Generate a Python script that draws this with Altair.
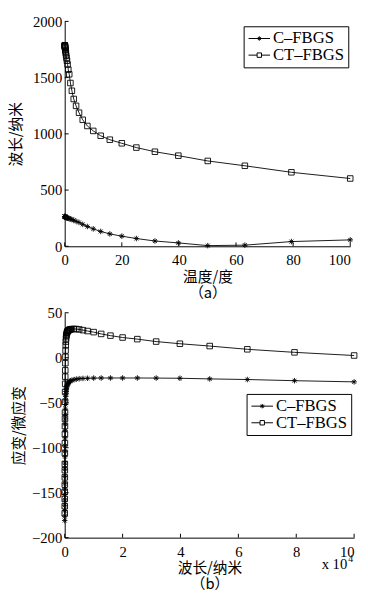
import altair as alt
import pandas as pd

series = ["C–FBGS", "CT–FBGS"]

# Panel (a): temperature (deg) vs wavelength (nm)
temp = [0.01, 0.02, 0.03, 0.05, 0.07, 0.1, 0.13, 0.16, 0.2, 0.25, 0.32, 0.4, 0.5, 0.63, 0.79,
        1, 1.26, 1.58, 2, 2.51, 3.16, 3.98, 5.01, 6.31, 7.94, 10, 12.6, 15.8, 20, 25.1, 31.6,
        39.8, 50.1, 63.1, 79.4, 100]
c_a = [265, 265, 264, 264, 263, 263, 262, 262, 261, 260, 259, 258, 257, 255, 253,
       251, 249, 246, 243, 238, 232, 222, 212, 195, 176, 155, 132, 110, 90, 69, 47,
       30, 6, 10, 42, 57]
ct_a = [1788, 1786, 1784, 1781, 1778, 1774, 1769, 1763, 1755, 1745, 1732, 1716, 1697, 1675, 1650,
        1617, 1571, 1530, 1452, 1383, 1310, 1249, 1188, 1125, 1070, 1026, 983, 948, 916, 878, 841,
        806, 759, 716, 658, 603]

# Panel (b): wavelength (x10^4 nm) vs strain (micro-strain)
wl = [0.0005, 0.001, 0.0015, 0.002, 0.0025, 0.003, 0.0035, 0.004, 0.005, 0.006, 0.007, 0.008,
      0.009, 0.010, 0.012, 0.014, 0.016, 0.018, 0.020, 0.023, 0.026, 0.030, 0.035, 0.040, 0.046,
      0.053, 0.060, 0.070, 0.080, 0.090, 0.10, 0.115, 0.13, 0.15, 0.175, 0.20, 0.25, 0.32, 0.40,
      0.50, 0.63, 0.79, 1.0, 1.26, 1.58, 2.0, 2.51, 3.16, 3.98, 5.01, 6.31, 7.94, 10.0]
c_b = [-181, -176, -170, -164, -158, -152, -146, -140, -132, -124, -117, -110, -104, -98,
       -89, -81, -74, -68, -63, -57, -52, -47, -43, -40, -37.5, -35.5, -34, -32.5, -31, -30,
       -29, -28.5, -27.8, -27, -26.3, -25.7, -25, -24.3, -23.8, -23.3, -23, -22.8, -22.6,
       -22.5, -22.5, -22.5, -22.5, -22.6, -22.8, -23.5, -24.2, -25.5, -26.8]
ct_b = [-173, -165, -157, -149, -141, -133, -125, -118, -106, -95, -85, -76, -68, -61,
        -49, -38, -29, -21, -14, -6, 1, 8, 14, 18, 21.5, 24, 25.5, 27, 28, 28.8,
        29.4, 30, 30.5, 31, 31.3, 31.6, 31.9, 32, 31.9, 31.5, 30.7, 29.7, 28.5,
        26.5, 24.6, 22.5, 20.7, 18, 15.6, 13, 9.4, 6, 2.5]

xticks_a = [0, 20, 40, 60, 80, 100]
yticks_a = [0, 500, 1000, 1500, 2000]
xticks_b = [0, 2, 4, 6, 8, 10]
yticks_b = [-200, -150, -100, -50, 0, 50]

STAR = "M-1,0H1M0,-1V1M-0.7,-0.7L0.7,0.7M-0.7,0.7L0.7,-0.7"
LEG_STAR = ("M-1,0H1.93M0.47,-0.3V0.3M0.17,0H0.77M0.26,-0.21L0.68,0.21M0.26,0.21L0.68,-0.21")
LEG_SQ = "M-1,0H0.17M0.77,0H1.93M0.17,-0.3H0.77V0.3H0.17Z"


def long_df(xs, ys1, ys2):
    rows = [{"x": a, "y": b, "s": series[0]} for a, b in zip(xs, ys1)]
    rows += [{"x": a, "y": b, "s": series[1]} for a, b in zip(xs, ys2)]
    return pd.DataFrame(rows)


def panel(df, xdom, ydom, xt, yt, w, h, xtitle, ytitle, lx, ly, ext, extra=None):
    last = xt[-1]
    xaxis = alt.Axis(values=xt, title=xtitle, titleLineHeight=16, labelPadding=7, titlePadding=2,
                     format="d",
                     labelAlign={"condition": {"test": f"datum.value == {last}", "value": "right"},
                                 "value": "center"})
    yaxis = alt.Axis(values=yt, title=ytitle, labelPadding=3, titlePadding=2, format="d",
                     minExtent=ext, maxExtent=ext)
    xs = alt.Scale(domain=xdom, nice=False, zero=False)
    ys = alt.Scale(domain=ydom, nice=False, zero=False)
    X = alt.X("x:Q", scale=xs, axis=xaxis)
    Y = alt.Y("y:Q", scale=ys, axis=yaxis)
    base = alt.Chart(df)
    line = base.mark_line(color="black", strokeWidth=0.9).encode(x=X, y=Y, detail="s:N")
    pts = base.mark_point(filled=False, color="black", strokeWidth=0.9, size=32, opacity=1).encode(
        x=X, y=Y,
        shape=alt.Shape("s:N", scale=alt.Scale(domain=series, range=[STAR, "square"]), legend=None))
    leg = base.mark_point(opacity=0, filled=False, color="black").encode(
        x=X, y=Y,
        shape=alt.Shape("s:N", scale=alt.Scale(domain=series, range=[LEG_STAR, LEG_SQ]),
                        legend=alt.Legend(title=None, orient="none", legendX=lx, legendY=ly,
                                          strokeColor="black", fillColor="white", padding=4,
                                          labelFont="Liberation Serif", labelFontSize=17,
                                          labelColor="black", labelOffset=9,
                                          symbolSize=225, symbolStrokeColor="black",
                                          symbolStrokeWidth=1, symbolOpacity=1,
                                          symbolFillColor="white", rowPadding=-1)))
    xtk = alt.Chart(pd.DataFrame({"x": xt})).mark_rule(color="black", strokeWidth=1).encode(
        x=X, y=alt.value(h), y2=alt.value(h - 4))
    ytk = alt.Chart(pd.DataFrame({"y": yt})).mark_rule(color="black", strokeWidth=1).encode(
        y=Y, x=alt.value(0), x2=alt.value(4))
    layers = [line, pts, leg, xtk, ytk]
    if extra is not None:
        layers += extra
    return alt.layer(*layers).resolve_scale(shape="independent").properties(width=w, height=h)


sup = [
    alt.Chart(pd.DataFrame({"t": ["x 10"]})).mark_text(
        align="right", baseline="alphabetic", font="Liberation Serif", fontSize=15, color="black"
    ).encode(text="t:N", x=alt.value(289), y=alt.value(262)),
    alt.Chart(pd.DataFrame({"t": ["4"]})).mark_text(
        align="left", baseline="alphabetic", font="Liberation Serif", fontSize=10, color="black"
    ).encode(text="t:N", x=alt.value(290), y=alt.value(255)),
]

pa = panel(long_df(temp, c_a, ct_a), [0, 100], [0, 2000], xticks_a, yticks_a, 292, 230,
           ["温度/度", "（a）"], "波长/纳米", 183, 5, 40)
pb = panel(long_df(wl, c_b, ct_b), [0, 10], [-200, 50], xticks_b, yticks_b, 296, 230,
           ["波长/纳米", "（b）"], "应变/微应变", 186, 83, 37, extra=sup)

chart = alt.vconcat(pa, pb, spacing=6).properties(
    padding={"left": 1, "top": 0, "right": 0, "bottom": 0}
).configure_view(stroke=None).configure_axis(
    domainColor="black", domainWidth=1, ticks=False, grid=False,
    labelFont="Liberation Serif", labelFontSize=15, labelColor="black",
    titleFont="Noto Sans CJK SC", titleFontSize=15, titleFontWeight="normal", titleColor="black"
)

chart.save("out.html", embed_options={"renderer": "svg", "actions": False})
